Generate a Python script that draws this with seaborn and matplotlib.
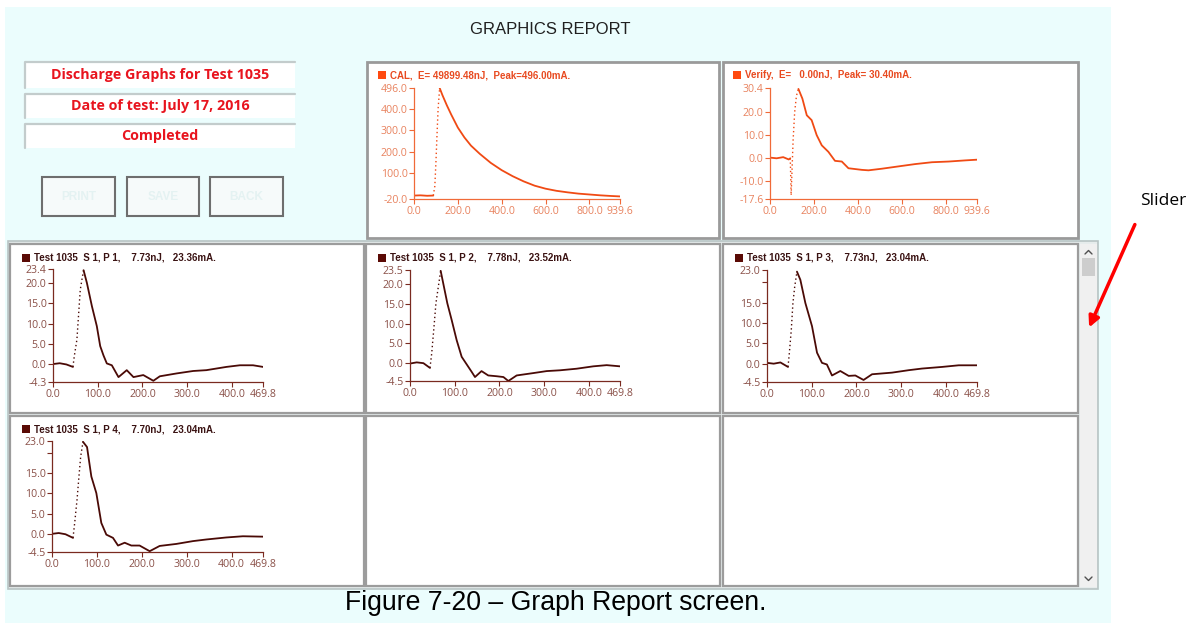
import matplotlib
matplotlib.use("Agg")
import matplotlib.pyplot as plt
from matplotlib.patches import Rectangle, FancyArrowPatch
from matplotlib.lines import Line2D
import seaborn as sns

W, H = 1188, 623

# ---- waveforms (time in x, current in mA) ----
cal_x = [0, 30, 60, 88, 95, 100, 105, 110, 117, 130, 150, 170, 200, 230, 260, 300,
         350, 400, 450, 500, 550, 600, 650, 700, 750, 800, 850, 900, 939.6]
cal_y = [-4, -3, -5, -4, 40, 150, 280, 400, 496, 462, 415, 372, 312, 266, 228, 190,
         148, 114, 86, 62, 42, 28, 18, 11, 5, 1, -3, -6, -8]
cal_rise = (3, 8)

ver_x = [0, 30, 60, 85, 92, 96, 100, 105, 112, 120, 129, 147, 167, 189, 212, 235,
         265, 295, 326, 356, 417, 447, 508, 583, 659, 735, 811, 887, 939.6]
ver_y = [0.3, 0.0, 0.5, -0.5, 0.0, -16.0, -5.0, 8.0, 20.0, 27.0, 30.0, 25.8, 18.6,
         16.5, 10.0, 5.6, 2.8, -1.1, -1.4, -4.3, -5.0, -5.2, -4.5, -3.5, -2.5, -1.7,
         -1.4, -0.9, -0.6]
ver_rise = (4, 10)

p1_x = [0, 15, 30, 44.6, 47.6, 53.5, 57, 61, 64.7, 68.4, 75.8, 87, 98, 105.6, 113,
        120.4, 131.6, 146.5, 165, 180, 202, 224.5, 239, 276.5, 313.7, 343, 388, 418,
        447.5, 469.8]
p1_y = [0.1, 0.3, 0.0, -0.6, 2.0, 6.1, 11.8, 18.3, 20.8, 23.1, 20.0, 14.3, 9.4, 4.5,
        2.2, 0.25, -0.2, -3.1, -1.4, -3.1, -2.6, -4.0, -2.9, -2.2, -1.6, -1.4, -0.6,
        -0.2, -0.2, -0.6]
p1_rise = (3, 9)

p2_x = [0, 15, 30, 44.7, 48.5, 53.7, 58, 63.4, 68.6, 74.6, 83.5, 93.2, 104.4, 115.6,
        126.8, 138, 145.4, 160, 175, 194, 209, 220, 238.6, 276, 305.7, 335.6, 372.8,
        410, 440, 469.8]
p2_y = [-0.1, 0.2, 0.0, -1.2, 2.4, 9.2, 15.1, 19.3, 23.3, 20.0, 15.1, 10.9, 5.8, 1.6,
        -0.3, -2.2, -3.5, -2.0, -3.1, -3.3, -3.5, -4.5, -3.1, -2.5, -2.0, -1.8, -1.4,
        -0.8, -0.5, -0.8]
p2_rise = (3, 8)

p3_x = [0, 15, 30, 47, 50, 54.4, 58, 62, 67, 74.6, 85.8, 100.7, 111.9, 123, 134,
        145.4, 164, 182.7, 197.6, 216, 235, 279.6, 317, 346.8, 391.5, 428.8, 469.8]
p3_y = [0.2, 0.0, 0.3, -0.8, 2.6, 8.4, 14.9, 18.9, 22.6, 20.6, 14.9, 9.2, 2.7, 0.2,
        -0.2, -2.9, -1.8, -3.0, -2.9, -4.0, -2.6, -2.2, -1.6, -1.2, -0.8, -0.4, -0.4]
p3_rise = (3, 8)

p4_x = [0, 15, 30, 46.8, 50.5, 55.7, 60, 63.8, 69, 78, 87.6, 98.7, 109.8, 121,
        135.8, 147, 161.8, 176.6, 195, 217.5, 239.7, 276.8, 314, 343.6, 388, 425,
        469.8]
p4_y = [0.0, 0.2, -0.1, -1.0, 2.7, 8.4, 14.2, 19.1, 22.8, 21.5, 14.2, 10.1, 2.7, -0.2,
        -1.0, -2.9, -2.2, -2.9, -2.9, -4.3, -3.0, -2.5, -1.8, -1.4, -0.9, -0.6, -0.7]
p4_rise = (3, 8)

# axis ticks / labels
cal_yticks = [496.0, 400.0, 300.0, 200.0, 100.0, -20.0]
ver_yticks = [30.4, 20.0, 10.0, 0.0, -10.0, -17.6]
top_xticks = [0.0, 200.0, 400.0, 600.0, 800.0, 939.6]
p1_yticks = [23.4, 20.0, 15.0, 10.0, 5.0, 0.0, -4.3]
p2_yticks = [23.5, 20.0, 15.0, 10.0, 5.0, 0.0, -4.5]
p3_yticks = [23.0, 15.0, 10.0, 5.0, 0.0, -4.5]
p4_yticks = [23.0, 15.0, 10.0, 5.0, 0.0, -4.5]
bot_xticks = [0.0, 100.0, 200.0, 300.0, 400.0, 469.8]

titles = ["CAL,  E= 49899.48nJ,  Peak=496.00mA.",
          "Verify,  E=   0.00nJ,  Peak= 30.40mA.",
          "Test 1035  S 1, P 1,    7.73nJ,   23.36mA.",
          "Test 1035  S 1, P 2,    7.78nJ,   23.52mA.",
          "Test 1035  S 1, P 3,    7.73nJ,   23.04mA.",
          "Test 1035  S 1, P 4,    7.70nJ,   23.04mA."]
info_lines = ["Discharge Graphs for Test 1035", "Date of test: July 17, 2016", "Completed"]
buttons = ["PRINT", "SAVE", "BACK"]

sns.set_style("white")
plt.rcParams['font.family'] = ['Liberation Sans', 'DejaVu Sans']

fig = plt.figure(figsize=(W / 100, H / 100), dpi=100)
fig.patch.set_facecolor('white')


def fx(x):
    return x / W


def fy(y):
    return 1 - y / H


def box(x0, y0, x1, y1, **kw):
    kw.setdefault('zorder', -5)
    fig.add_artist(Rectangle((fx(x0), fy(y1)), (x1 - x0) / W, (y1 - y0) / H,
                             transform=fig.transFigure, **kw))


def line(xs, ys, **kw):
    kw.setdefault('zorder', -4)
    fig.add_artist(Line2D([fx(v) for v in xs], [fy(v) for v in ys],
                          transform=fig.transFigure, **kw))


# background of the window
box(5, 7, 1111, 623, facecolor='#ebfdfd', edgecolor='none', zorder=-10)
fig.text(fx(550), fy(29), "GRAPHICS REPORT", ha='center', va='center',
         fontsize=12, color='#202020')

# info boxes
for i, (y0, y1) in enumerate([(62, 88), (94, 118), (124, 148)]):
    box(25, y0, 295, y1, facecolor='white', edgecolor='none')
    line([25, 25, 295], [y1, y0, y0], color='#c3cccc', lw=1.6)
    fig.text(fx(160), fy((y0 + y1) / 2), info_lines[i], ha='center', va='center',
             fontsize=10.3, fontweight='bold', color='#e8141e', family='Open Sans')

# buttons
for i, (x0, x1) in enumerate([(42, 115), (127, 199), (210, 283)]):
    box(x0, 177, x1, 216, facecolor='#f6fafa', edgecolor='#6e6e6e', lw=1.5)
    fig.text(fx((x0 + x1) / 2), fy(197), buttons[i], ha='center', va='center',
             fontsize=8.5, fontweight='bold', color='#e4f2f2')

# top panels
box(367, 62, 719, 238, facecolor='white', edgecolor='#9a9a9a', lw=2)
box(723, 62, 1078, 238, facecolor='white', edgecolor='#9a9a9a', lw=2)

# grid of pulse panels + slider
box(8, 241, 1098, 589, facecolor='#e6ecec', edgecolor='#b8c4c4', lw=1.2, zorder=-6)
for (y0, y1) in [(244, 413), (416, 586)]:
    for (x0, x1) in [(10, 364), (366, 720), (723, 1078)]:
        box(x0, y0, x1, y1, facecolor='white', edgecolor='#9c9c9c', lw=1.6)
box(1080, 244, 1097, 587, facecolor='#f0f0f0', edgecolor='none')
box(1082, 258, 1095, 276, facecolor='#cdcdcd', edgecolor='none', zorder=-4)
line([1085, 1088.5, 1092], [254, 250.5, 254], color='#505050', lw=1)
line([1085, 1088.5, 1092], [577, 580.5, 577], color='#505050', lw=1)


def draw_trace(ax, x, y, rise, color):
    a, b = rise
    sns.lineplot(x=x[:a + 1], y=y[:a + 1], ax=ax, color=color, lw=1.3, errorbar=None)
    sns.lineplot(x=x[a:b + 1], y=y[a:b + 1], ax=ax, color=color, lw=1.0,
                 linestyle=(0, (1, 2)), errorbar=None)
    sns.lineplot(x=x[b:], y=y[b:], ax=ax, color=color, lw=1.3, errorbar=None)


def make_plot(rect, x, y, rise, xticks, yticks, extra_yticks, title, sq_x, title_y,
              line_c, axis_c, label_c, title_c, sq_c):
    x0, y0, x1, y1 = rect
    ax = fig.add_axes([fx(x0), fy(y1), (x1 - x0) / W, (y1 - y0) / H])
    ax.set_facecolor('none')
    ax.set_zorder(5)
    draw_trace(ax, x, y, rise, line_c)
    ax.set_xlim(xticks[0], xticks[-1])
    ax.set_ylim(yticks[-1], yticks[0])
    for s in ['top', 'right']:
        ax.spines[s].set_visible(False)
    for s in ['left', 'bottom']:
        ax.spines[s].set_color(axis_c)
        ax.spines[s].set_linewidth(0.9)
    ax.set_xticks(xticks)
    ax.set_xticklabels([f"{v:.1f}" for v in xticks])
    yt = list(yticks) + list(extra_yticks)
    ax.set_yticks(yt)
    ax.set_yticklabels([f"{v:.1f}" for v in yticks] + [""] * len(extra_yticks))
    ax.tick_params(axis='both', direction='out', length=3.5, width=0.8, color=axis_c,
                   labelcolor=label_c, labelsize=7.6, pad=1.2, bottom=True, left=True)
    for lab in ax.get_xticklabels() + ax.get_yticklabels():
        lab.set_family('Open Sans')
    ax.set_xlabel("")
    ax.set_ylabel("")
    # legend-like caption
    box(sq_x, title_y - 4, sq_x + 8, title_y + 4, facecolor=sq_c, edgecolor='none',
        zorder=2)
    fig.text(fx(sq_x + 12), fy(title_y), title, ha='left', va='center', fontsize=7,
             fontweight='bold', color=title_c)
    return ax


top_style = dict(line_c='#f04a14', axis_c='#f06a38', label_c='#e8825e',
                 title_c='#e84a20', sq_c='#ff4a10')
bot_style = dict(line_c='#4a0a06', axis_c='#7a2a20', label_c='#8a5048',
                 title_c='#3a1212', sq_c='#5a0a05')

make_plot((414, 88, 620, 199), cal_x, cal_y, cal_rise, top_xticks, cal_yticks, [],
          titles[0], 378, 75, **top_style)
make_plot((770, 88, 977, 199), ver_x, ver_y, ver_rise, top_xticks, ver_yticks, [],
          titles[1], 733, 75, **top_style)
make_plot((53, 269, 263, 382), p1_x, p1_y, p1_rise, bot_xticks, p1_yticks, [],
          titles[2], 22, 258, **bot_style)
make_plot((410, 270, 620, 381), p2_x, p2_y, p2_rise, bot_xticks, p2_yticks, [],
          titles[3], 378, 258, **bot_style)
make_plot((767, 270, 977, 382), p3_x, p3_y, p3_rise, bot_xticks, p3_yticks, [20.0],
          titles[4], 735, 258, **bot_style)
make_plot((52, 441, 263, 552), p4_x, p4_y, p4_rise, bot_xticks, p4_yticks, [20.0],
          titles[5], 22, 429, **bot_style)

# annotation for the slider
fig.text(fx(1163), fy(201), "Slider", ha='center', va='center', fontsize=12.5,
         family='Open Sans', color='black')
fig.add_artist(FancyArrowPatch(
    (fx(1136), fy(222)), (fx(1088), fy(330)), transform=fig.transFigure,
    arrowstyle='-|>', mutation_scale=16, color='#ff0000', lw=2.5, zorder=10))

# caption
fig.text(fx(556), fy(603), "Figure 7-20 \u2013 Graph Report screen.", ha='center',
         va='center', fontsize=19.2, color='black')

fig.savefig("out.png", dpi=100)
